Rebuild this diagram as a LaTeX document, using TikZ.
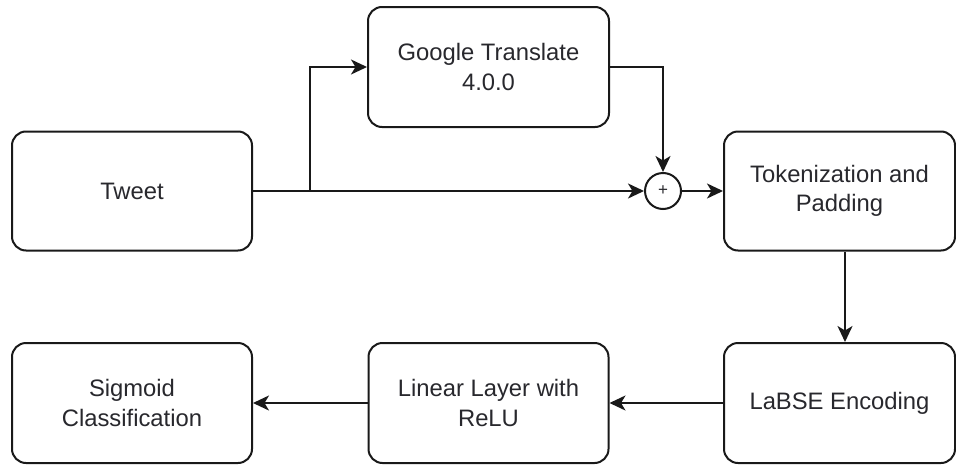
\documentclass[tikz,border=0pt]{standalone}
\usepackage{fontspec}
\setmainfont{Liberation Sans}
\usetikzlibrary{arrows.meta}
\definecolor{ink}{RGB}{25,25,25}
\definecolor{txt}{RGB}{40,40,45}
\tikzset{
  x=1pt, y=-1pt,
  block/.style={draw=ink, line width=2pt, rounded corners=14pt, fill=white,
    minimum width=240pt, minimum height=119pt, inner sep=0pt, align=center,
    text=txt, font=\fontsize{23.8}{29.5}\selectfont},
  link/.style={draw=ink, line width=2pt,
    -{Stealth[length=16pt, width=15pt, inset=4.5pt]}},
}
\begin{document}
\begin{tikzpicture}
\useasboundingbox (0,0) rectangle (956,466);

\node[block] (tweet)   at (132,191)   {Tweet};
\node[block, minimum width=241pt, minimum height=120pt] (google) at (488.5,67) {Google Translate\\4.0.0};
\node[draw=ink, line width=2pt, circle, minimum size=36pt, inner sep=0pt,
      font=\fontsize{17}{17}\selectfont, text=txt] (plus) at (663,191) {+};
\node[block, minimum width=231pt] (tok) at (839.5,191) {Tokenization and\\Padding};
\node[block, minimum width=231pt, minimum height=120pt] (labse) at (839.5,403) {LaBSE Encoding};
\node[block, minimum height=120pt] (linear) at (488.5,403) {Linear Layer with\\ReLU};
\node[block, minimum height=120pt] (sigmoid) at (132,403) {Sigmoid\\Classification};

\coordinate (split) at (310,191);

\draw[link] (tweet.east) -- (plus.west);
\draw[link] (split) |- (google.west);
\draw[link] (google.east) -| (plus.north);
\draw[link] (plus.east) -- (tok.west);
\draw[link] (tok.south -| 845,0) -- (labse.north -| 845,0);
\draw[link] (labse.west) -- (linear.east);
\draw[link] (linear.west) -- (sigmoid.east);
\end{tikzpicture}
\end{document}
